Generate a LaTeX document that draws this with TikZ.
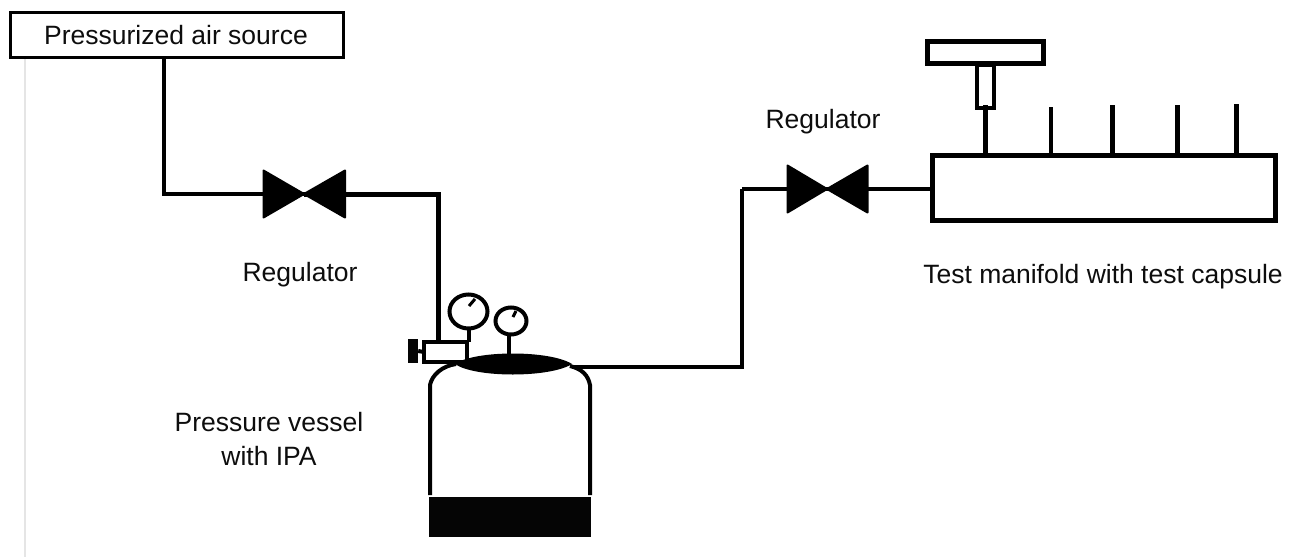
\documentclass[tikz,border=0pt]{standalone}
\usepackage{fontspec}
\usetikzlibrary{shapes.geometric}
\setmainfont{Liberation Sans}
\tikzset{
  pipe/.style={line width=4.5pt,line join=miter},
  valvetri/.style={fill=black,draw=black,line width=2pt,line join=round},
  plainbox/.style={draw=black,fill=white,inner sep=0pt,outer sep=0pt,anchor=north west},
  gauge/.style={ellipse,draw=black,fill=white,line width=4pt,inner sep=0pt,outer sep=0pt},
  txt/.style={font=\fontsize{26.5}{34}\selectfont,inner sep=0pt,align=center,text=black!95},
  blackblock/.style={fill=black!98,draw=none},
}
\begin{document}
\begin{tikzpicture}[x=1pt,y=-1pt]
\useasboundingbox (0,0) rectangle (1291,557);
\fill[white] (0,0) rectangle (1291,557);
\draw[black!10,line width=1.2pt] (25,57) -- (25,557);
% named points
\coordinate (c1) at (164,194);
\coordinate (v1) at (304,194);
\coordinate (c2) at (438,194);
\coordinate (c3) at (742,189);
\coordinate (c4) at (742,367);
\coordinate (v2) at (827,189);
% source
\node[plainbox,line width=3pt,minimum width=333pt,minimum height=45pt] (source) at (10,12) {};
\node[txt] (l0) at (176,35) {Pressurized air source};
% regulator body on vessel
\node[plainbox,line width=3.5pt,minimum width=43pt,minimum height=20pt] (body) at (424,342) {};
% pipes
\draw[pipe,line width=4pt] (source.south -| c1) -- (c1) -- (v1);
\draw[pipe,line width=5pt] (v1) -- (c2) -- (c2 |- body.north);
\draw[line width=4pt] (body.north east) -- (body.south east);
% valves
\draw[valvetri] (263.5,170.5) -- (304,194) -- (263.5,217.5) -- cycle;
\draw[valvetri] (345,170.5) -- (304,194) -- (345,217.5) -- cycle;
\draw[valvetri] (787.5,165.5) -- (827,189) -- (787.5,212.5) -- cycle;
\draw[valvetri] (867.5,165.5) -- (827,189) -- (867.5,212.5) -- cycle;
% knob
\node[blackblock,minimum width=10pt,minimum height=24pt,inner sep=0pt] (knob) at (413,351) {};
\draw[line width=4pt] (knob.east) -- (body.west);
% gauges
\node[gauge,minimum width=38pt,minimum height=34pt] (g1) at (468.5,311.5) {};
\node[gauge,minimum width=31pt,minimum height=27pt] (g2) at (511,321) {};
\draw[line width=3pt] (469,306) -- (475,299);
\draw[line width=3pt] (513,317) -- (516,311);
\draw[line width=4pt] (g1.south) -- (g1.south |- body.north);
% vessel
\draw[line width=4pt] (430,495) -- (430,385) .. controls (432,375) and (442,366) .. (456,364);
\draw[line width=4pt] (590,495) -- (590,385) .. controls (588,375) and (582,369) .. (570,366);
\fill[black!98] (429,497) rectangle (591,537);
\fill[black] (455,364) .. controls (475,350) and (550,350) .. (572,364) .. controls (550,378) and (475,378) .. (455,364) -- cycle;
\coordinate (lidtop) at (509,354);
\coordinate (lidright) at (572,367);
\draw[line width=3.5pt] (lidtop |- g2.south) -- (lidtop);
% outgoing pipe
\draw[pipe,line width=4pt] (lidright) -- (c4) -- (c3);
\draw[pipe] (c4 |- c3) -- (v2);
% manifold
\node[plainbox,line width=5pt,minimum width=343pt,minimum height=65pt] (manifold) at (932,155) {};
\draw[pipe] (v2) -- (v2 -| manifold.west);
% top gauge
\node[plainbox,line width=5pt,minimum width=116pt,minimum height=22pt] (bar) at (927.5,41.5) {};
\node[plainbox,line width=3.5pt,minimum width=17pt,minimum height=43pt] (stem) at (977,65) {};
% ports
\coordinate (p1) at (985,105);
\coordinate (p2) at (1051,107);
\coordinate (p3) at (1112,105);
\coordinate (p4) at (1177,105);
\coordinate (p5) at (1236,104);
\draw[line width=5pt] (p1) -- (p1 |- manifold.north);
\draw[line width=4pt] (p2) -- (p2 |- manifold.north);
\draw[line width=5pt] (p3) -- (p3 |- manifold.north);
\draw[line width=5pt] (p4) -- (p4 |- manifold.north);
\draw[line width=5pt] (p5) -- (p5 |- manifold.north);
% labels
\node[txt] (l1) at (300,274.5) {Regulator};
\node[txt] (l2) at (823,121.5) {Regulator};
\node[txt] (l3) at (1103,276.5) {Test manifold with test capsule};
\node[txt] (l4) at (269,439) {Pressure vessel\\with IPA};
\end{tikzpicture}
\end{document}
